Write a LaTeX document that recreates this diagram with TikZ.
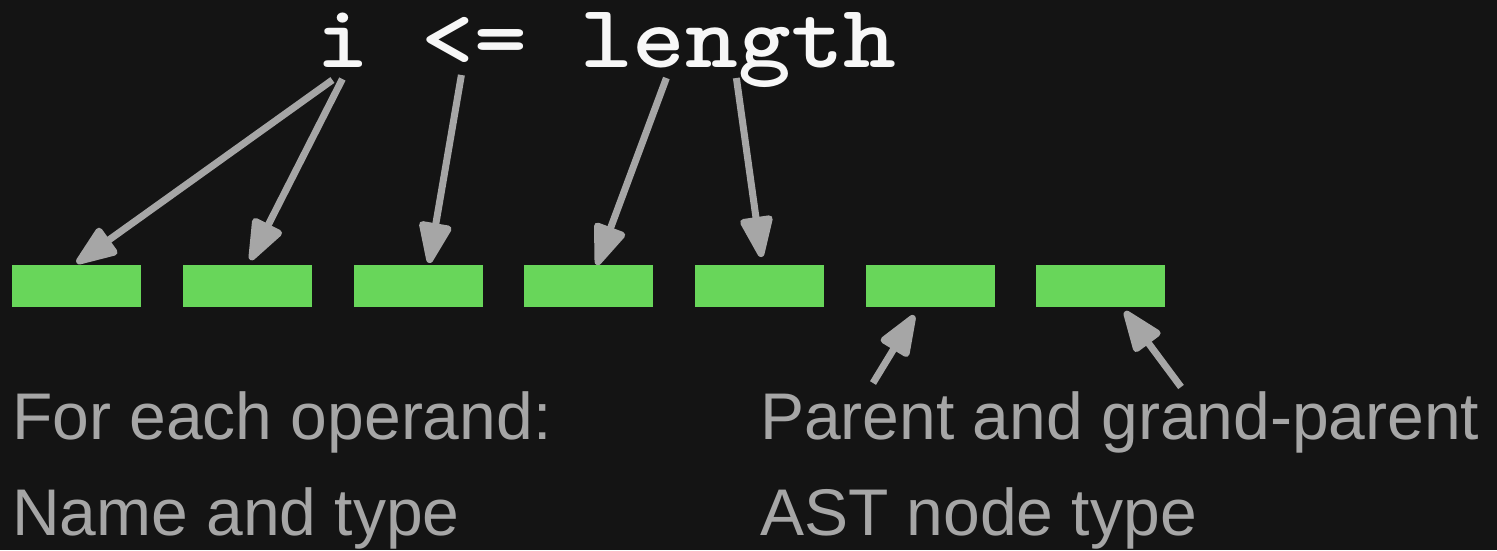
\documentclass[tikz,border=0pt]{standalone}
\usepackage{fontspec}
\usepackage{graphicx}
\setmainfont{Liberation Sans}
\usetikzlibrary{arrows.meta}
\definecolor{bg}{HTML}{141414}
\definecolor{slot}{HTML}{68D65A}
\definecolor{pointer}{HTML}{A6A6A6}
\definecolor{code}{HTML}{F7F7F7}
\newcommand{\codetext}[1]{\scalebox{1.117}[1]{\ttfamily\bfseries #1}}
\begin{document}
\begin{tikzpicture}[x=1pt,y=-1pt,
  slotbox/.style={fill=slot,draw=none,minimum width=129pt,minimum height=42pt,inner sep=0pt,anchor=north west},
  codetok/.style={text=code,inner sep=0pt,anchor=base,font=\fontsize{90}{90}\selectfont},
  caption/.style={text=pointer,inner sep=0pt,anchor=base west,font=\fontsize{66}{66}\selectfont},
  pointerarrow/.style={draw=pointer,line width=7pt,-{Triangle[round,length=47pt,width=34pt]}}]
\fill[bg] (0,0) rectangle (1497,550);
\useasboundingbox (0,0) rectangle (1497,550);

% the expression, one node per token on a monospace grid
\node[codetok] (vi)  at (342.4,67) {\codetext{i}};
\node[codetok] (op)  at (474.4,67) {\codetext{<=}};
\node[codetok] (len) at (738.4,67) {\codetext{length}};

% feature slots
\foreach \k in {1,...,7}
  \node[slotbox] (b\k) at ({12+170.7*(\k-1)},265) {};

% captions
\node[caption] (c1) at (12,439) {For each operand:};
\node[caption] (c2) at (12,535) {Name and type};
\node[caption] (c3) at (760,439) {Parent and grand-parent};
\node[caption] (c4) at (760,535) {AST node type};

% operands to their slots
\draw[pointerarrow] ([xshift=-10pt,yshift=-13pt]vi.base) -- ([yshift=2pt]b1.north);
\draw[pointerarrow] ([xshift=0pt,yshift=-12pt]vi.base) -- ([xshift=3pt,yshift=5pt]b2.north);
\draw[pointerarrow] ([xshift=-13pt,yshift=-8pt]op.base) -- ([xshift=11pt,yshift=2pt]b3.north);
\draw[pointerarrow] ([xshift=-72pt,yshift=-11pt]len.base) -- ([xshift=8pt,yshift=0pt]b4.north);
\draw[pointerarrow] ([xshift=-2pt,yshift=-11pt]len.base) -- ([xshift=2pt,yshift=8pt]b5.north);

% context to its slots
\draw[pointerarrow] ([xshift=113pt,yshift=56pt]c3.base west) -- ([xshift=-16pt,yshift=-8pt]b6.south);
\draw[pointerarrow] ([xshift=421pt,yshift=52pt]c3.base west) -- ([xshift=24pt,yshift=-4pt]b7.south);
\end{tikzpicture}
\end{document}
